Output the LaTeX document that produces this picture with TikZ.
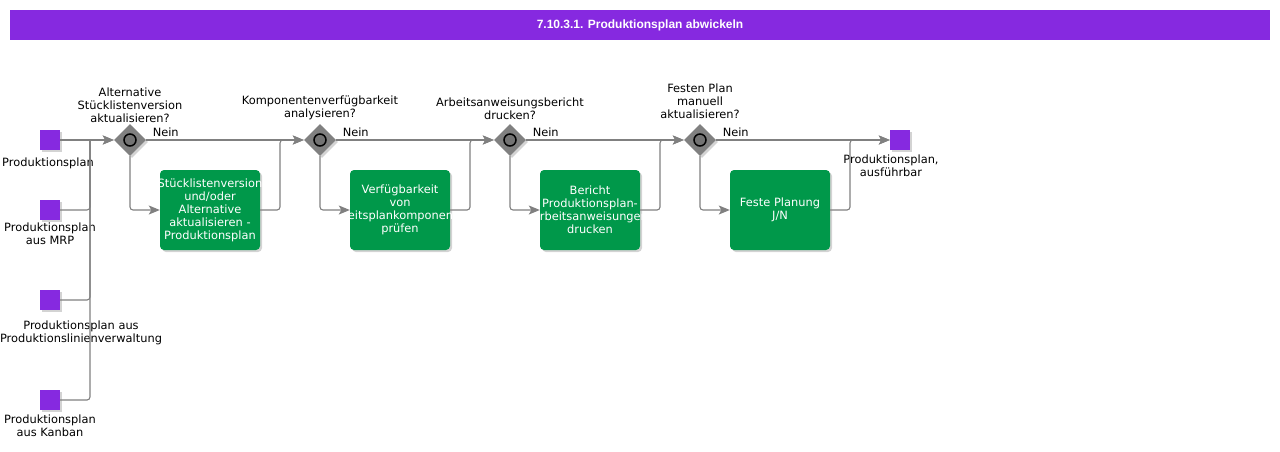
\documentclass[tikz,border=0pt]{standalone}
\usepackage{fontspec}
\setmainfont{DejaVu Sans}
\newfontfamily\kopffont{Liberation Sans}
\usetikzlibrary{shapes.geometric,shadows,arrows.meta}
\definecolor{lila}{HTML}{8629E0}
\definecolor{gruen}{HTML}{00984A}
\definecolor{grau}{HTML}{808080}
\newcommand{\breit}[1]{\makebox[\linewidth]{#1}}
\begin{document}
\begin{tikzpicture}[x=1pt,y=-1pt,font=\fontsize{11.4}{13}\selectfont,
    schatten/.style={drop shadow={shadow xshift=2pt,shadow yshift=-2pt,opacity=.35}},
    ereignis/.style={fill=lila,minimum size=20pt,inner sep=0pt,schatten},
    tor/.style={diamond,fill=grau,minimum width=32pt,minimum height=32pt,inner sep=0pt,schatten,
        path picture={\draw[line width=1.5pt,fill=black!55] (path picture bounding box.center) circle (6pt);}},
    aufgabe/.style={fill=gruen,rounded corners=4pt,minimum width=100pt,minimum height=80pt,
        text width=100pt,inner xsep=0pt,align=center,text=white,schatten},
    beschr/.style={align=center,inner sep=0pt},
    nein/.style={pos=0,anchor=south west,inner sep=0pt,xshift=6pt,yshift=3pt},
    fluss/.style={draw=grau,line width=1.1pt,rounded corners=3pt},
    pfeil/.style={fluss,-{Stealth[length=11pt,width=9pt,inset=2.5pt]}}]
    \useasboundingbox (0,0) rectangle (1280,451);
    \node[fill=lila,minimum width=1260pt,minimum height=30pt,text=white,
        font=\kopffont\bfseries\fontsize{12}{14}\selectfont] (kopf) at (640,25) {7.10.3.1. Produktionsplan abwickeln};

    \node[ereignis] (s1) at (50,140) {};
    \node[ereignis] (s2) at (50,210) {};
    \node[ereignis] (s3) at (50,300) {};
    \node[ereignis] (s4) at (50,400) {};
    \node[ereignis] (e1) at (900,140) {};
    \node[beschr,anchor=north] (ls1) at (48,158) {Produktionsplan};
    \node[beschr,anchor=north] (ls2) at (50,223) {Produktionsplan\\aus MRP};
    \node[beschr,anchor=north] (ls3) at (81,321) {Produktionsplan aus\\Produktionslinienverwaltung};
    \node[beschr,anchor=north] (ls4) at (50,415) {Produktionsplan\\aus Kanban};
    \node[beschr,anchor=north] (le1) at (891,155) {Produktionsplan,\\ausführbar};

    \node[tor] (g1) at (130,140) {};
    \node[tor] (g2) at (320,140) {};
    \node[tor] (g3) at (510,140) {};
    \node[tor] (g4) at (700,140) {};
    \node[beschr,anchor=south] (lg1) at (130,123) {Alternative\\Stücklistenversion\\aktualisieren?};
    \node[beschr,anchor=south] (lg2) at (320,120) {Komponentenverfügbarkeit\\analysieren?};
    \node[beschr,anchor=south] (lg3) at (510,120) {Arbeitsanweisungsbericht\\drucken?};
    \node[beschr,anchor=south] (lg4) at (700,119) {Festen Plan\\manuell\\aktualisieren?};

    \node[aufgabe] (t1) at (210,210) {\breit{Stücklistenversion}\\und/oder\\Alternative\\aktualisieren -\\Produktionsplan};
    \node[aufgabe] (t2) at (400,210) {Verfügbarkeit\\von\\\breit{Arbeitsplankomponenten}\\prüfen};
    \node[aufgabe] (t3) at (590,210) {Bericht\\Produktionsplan-\\\breit{Arbeitsanweisungen}\\drucken};
    \node[aufgabe] (t4) at (780,210) {Feste Planung\\J/N};

    \coordinate (m) at (90,140);
    \coordinate (j1) at (280,140);
    \coordinate (j2) at (470,140);
    \coordinate (j3) at (660,140);
    \coordinate (j4) at (850,140);

    \draw[pfeil] (s1.east) -- (g1.west);
    \foreach \s in {s2,s3,s4} \draw[fluss] (\s.east) -| (m);
    \draw[pfeil] (m) -- (g1.west);

    \draw[pfeil] (g1.east) -- (g2.west) node[nein]{Nein};
    \draw[pfeil] (g1.south) |- (t1.west);
    \draw[pfeil] (t1.east) -| (j1) -- (g2.west);
    \draw[pfeil] (g2.east) -- (g3.west) node[nein]{Nein};
    \draw[pfeil] (g2.south) |- (t2.west);
    \draw[pfeil] (t2.east) -| (j2) -- (g3.west);
    \draw[pfeil] (g3.east) -- (g4.west) node[nein]{Nein};
    \draw[pfeil] (g3.south) |- (t3.west);
    \draw[pfeil] (t3.east) -| (j3) -- (g4.west);
    \draw[pfeil] (g4.east) -- (e1.west) node[nein]{Nein};
    \draw[pfeil] (g4.south) |- (t4.west);
    \draw[pfeil] (t4.east) -| (j4) -- (e1.west);
\end{tikzpicture}
\end{document}
